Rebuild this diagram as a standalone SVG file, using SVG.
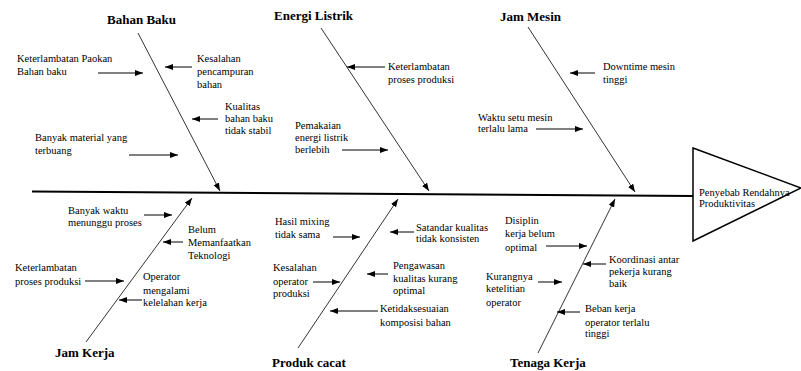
<svg xmlns="http://www.w3.org/2000/svg" width="801" height="371" viewBox="0 0 801 371">
<style>
text{font-family:"Liberation Serif","DejaVu Serif",serif;fill:#000}
.t{font-size:10.5px}
.h{font-size:13px;font-weight:bold}
.bone{stroke:#333;stroke-width:1;fill:none}
.ar{stroke:#000;stroke-width:1;fill:none}
</style>
<defs>
<marker id="ah" markerUnits="userSpaceOnUse" markerWidth="9" markerHeight="7" refX="8" refY="3" orient="auto">
<path d="M0,0 L8,3 L0,6 z" fill="#000"/>
</marker>
</defs>
<rect width="801" height="371" fill="#fff"/>
<g id="connectors">
<line x1="32" y1="191.5" x2="693" y2="196" stroke="#000" stroke-width="2"/>
<line class="bone" x1="138" y1="33" x2="220" y2="191" marker-end="url(#ah)"/>
<line class="bone" x1="321" y1="28" x2="429" y2="191" marker-end="url(#ah)"/>
<line class="bone" x1="528" y1="27" x2="635" y2="192" marker-end="url(#ah)"/>
<line class="bone" x1="86" y1="342" x2="192" y2="198" marker-end="url(#ah)"/>
<line class="bone" x1="298" y1="348" x2="398" y2="199" marker-end="url(#ah)"/>
<line class="bone" x1="538" y1="353" x2="615" y2="199" marker-end="url(#ah)"/>
<line class="ar" x1="98" y1="73" x2="143" y2="73" marker-end="url(#ah)"/>
<line class="ar" x1="192" y1="67" x2="165" y2="67" marker-end="url(#ah)"/>
<line class="ar" x1="218" y1="119" x2="192" y2="119" marker-end="url(#ah)"/>
<line class="ar" x1="129" y1="155" x2="178" y2="155" marker-end="url(#ah)"/>
<line class="ar" x1="385" y1="67" x2="347" y2="67" marker-end="url(#ah)"/>
<line class="ar" x1="342" y1="150" x2="388" y2="150" marker-end="url(#ah)"/>
<line class="ar" x1="595" y1="73" x2="570" y2="73" marker-end="url(#ah)"/>
<line class="ar" x1="536" y1="129" x2="583" y2="129" marker-end="url(#ah)"/>
<line class="ar" x1="144" y1="215" x2="172" y2="215" marker-end="url(#ah)"/>
<line class="ar" x1="183" y1="242" x2="163" y2="242" marker-end="url(#ah)"/>
<line class="ar" x1="85" y1="281" x2="124" y2="281" marker-end="url(#ah)"/>
<line class="ar" x1="142" y1="300" x2="119" y2="300" marker-end="url(#ah)"/>
<line class="ar" x1="333" y1="237" x2="360" y2="237" marker-end="url(#ah)"/>
<line class="ar" x1="414" y1="232" x2="390" y2="232" marker-end="url(#ah)"/>
<line class="ar" x1="313" y1="282" x2="340" y2="282" marker-end="url(#ah)"/>
<line class="ar" x1="388" y1="274" x2="367" y2="274" marker-end="url(#ah)"/>
<line class="ar" x1="378" y1="311" x2="330" y2="311" marker-end="url(#ah)"/>
<line class="ar" x1="546" y1="246" x2="587" y2="246" marker-end="url(#ah)"/>
<line class="ar" x1="606" y1="264" x2="583" y2="264" marker-end="url(#ah)"/>
<line class="ar" x1="538" y1="282" x2="562" y2="282" marker-end="url(#ah)"/>
<line class="ar" x1="580" y1="312" x2="557" y2="312" marker-end="url(#ah)"/>
</g>
<g font-family="'Liberation Serif', 'DejaVu Serif', serif">
<g id="head">
<polygon points="693,148 801,188 693,241" fill="#fff" stroke="#000" stroke-width="1.5"/>
<text class="t" x="699" y="196">Penyebab Rendahnya</text>
<text class="t" x="699" y="207">Produktivitas</text>
</g>
<g id="cat-bahan-baku"><text class="h" x="107" y="24">Bahan Baku</text></g>
<g id="cat-energi-listrik"><text class="h" x="274" y="20">Energi Listrik</text></g>
<g id="cat-jam-mesin"><text class="h" x="500" y="21">Jam Mesin</text></g>
<g id="cat-jam-kerja"><text class="h" x="55" y="357">Jam Kerja</text></g>
<g id="cat-produk-cacat"><text class="h" x="272" y="367">Produk cacat</text></g>
<g id="cat-tenaga-kerja"><text class="h" x="510" y="367">Tenaga Kerja</text></g>
<g id="c1"><text class="t" x="17" y="62">Keterlambatan Paokan</text><text class="t" x="17" y="75">Bahan baku</text></g>
<g id="c2"><text class="t" x="197" y="62">Kesalahan</text><text class="t" x="197" y="75">pencampuran</text><text class="t" x="197" y="87.5">bahan</text></g>
<g id="c3"><text class="t" x="225" y="110">Kualitas</text><text class="t" x="225" y="122">bahan baku</text><text class="t" x="225" y="134">tidak stabil</text></g>
<g id="c4"><text class="t" x="35" y="141">Banyak material yang</text><text class="t" x="35" y="154">terbuang</text></g>
<g id="c5"><text class="t" x="388" y="70">Keterlambatan</text><text class="t" x="388" y="83">proses produksi</text></g>
<g id="c6"><text class="t" x="295" y="129">Pemakaian</text><text class="t" x="295" y="141">energi listrik</text><text class="t" x="295" y="153">berlebih</text></g>
<g id="c7"><text class="t" x="603" y="70">Downtime mesin</text><text class="t" x="603" y="83">tinggi</text></g>
<g id="c8"><text class="t" x="478" y="121">Waktu setu mesin</text><text class="t" x="478" y="132">terlalu lama</text></g>
<g id="c9"><text class="t" x="68" y="214">Banyak waktu</text><text class="t" x="68" y="226">menunggu proses</text></g>
<g id="c10"><text class="t" x="188" y="233">Belum</text><text class="t" x="188" y="246">Memanfaatkan</text><text class="t" x="188" y="259">Teknologi</text></g>
<g id="c11"><text class="t" x="15" y="271">Keterlambatan</text><text class="t" x="15" y="285">proses produksi</text></g>
<g id="c12"><text class="t" x="143" y="280">Operator</text><text class="t" x="143" y="294">mengalami</text><text class="t" x="143" y="306">kelelahan kerja</text></g>
<g id="c13"><text class="t" x="275" y="225">Hasil mixing</text><text class="t" x="275" y="238">tidak sama</text></g>
<g id="c14"><text class="t" x="416" y="231">Satandar kualitas</text><text class="t" x="416" y="242">tidak konsisten</text></g>
<g id="c15"><text class="t" x="273" y="271">Kesalahan</text><text class="t" x="273" y="285">operator</text><text class="t" x="273" y="297">produksi</text></g>
<g id="c16"><text class="t" x="393" y="269">Pengawasan</text><text class="t" x="393" y="282">kualitas kurang</text><text class="t" x="393" y="294">optimal</text></g>
<g id="c17"><text class="t" x="380" y="312">Ketidaksesuaian</text><text class="t" x="380" y="326">komposisi bahan</text></g>
<g id="c18"><text class="t" x="505" y="224">Disiplin</text><text class="t" x="505" y="237">kerja belum</text><text class="t" x="505" y="251">optimal</text></g>
<g id="c19"><text class="t" x="609" y="263">Koordinasi antar</text><text class="t" x="609" y="275">pekerja kurang</text><text class="t" x="609" y="287">baik</text></g>
<g id="c20"><text class="t" x="486" y="280">Kurangnya</text><text class="t" x="486" y="292">ketelitian</text><text class="t" x="486" y="306">operator</text></g>
<g id="c21"><text class="t" x="585" y="312">Beban kerja</text><text class="t" x="585" y="326">operator terlalu</text><text class="t" x="585" y="337">tinggi</text></g>
</g>
</svg>
